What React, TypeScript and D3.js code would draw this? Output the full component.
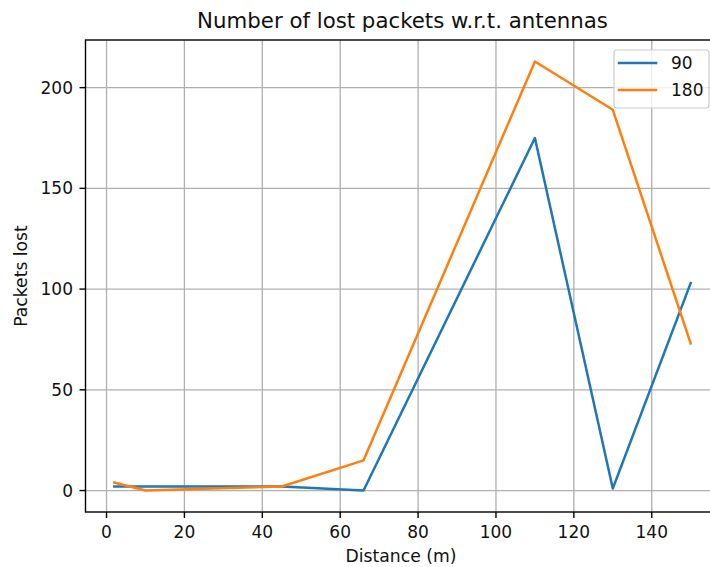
import React from "react";
import * as d3 from "d3";

const distances = [2, 10, 45, 66, 110, 130, 150];
const series90 = [2, 2, 2, 0, 175, 1, 103];
const series180 = [4, 0, 2, 15, 213, 189, 73];
const seriesNames = ["90", "180"];
const seriesColors = ["#1f77b4", "#ff7f0e"];
const xTicks = [0, 20, 40, 60, 80, 100, 120, 140];
const yTicks = [0, 50, 100, 150, 200];
const titleText = "Number of lost packets w.r.t. antennas";
const xLabelText = "Distance (m)";
const yLabelText = "Packets lost";

const W = 710;
const H = 567;
const L = 85.5, R = 719.5, T = 40, B = 512;
const FONT = "DejaVu Sans, sans-serif";

export default function App() {
  const x = d3.scaleLinear().domain([-5.4, 157.4]).range([L, R]);
  const y = d3.scaleLinear().domain([-10.65, 223.65]).range([B, T]);
  const allSeries = [series90, series180];
  const line = d3
    .line<[number, number]>()
    .x((d) => x(d[0]))
    .y((d) => y(d[1]));

  return (
    <svg
      width={W}
      height={H}
      style={{ position: "absolute", left: 0, top: 0, background: "#fff" }}
      fontFamily={FONT}
    >
      <rect x={0} y={0} width={W} height={H} fill="#fff" />
      {/* grid */}
      {xTicks.map((t) => (
        <line key={"gx" + t} x1={x(t)} x2={x(t)} y1={T} y2={B} stroke="#b0b0b0" strokeWidth={1.3} />
      ))}
      {yTicks.map((t) => (
        <line key={"gy" + t} x1={L} x2={R} y1={y(t)} y2={y(t)} stroke="#b0b0b0" strokeWidth={1.3} />
      ))}
      {/* lines */}
      {allSeries.map((s, i) => (
        <path
          key={"s" + i}
          d={line(distances.map((d, j) => [d, s[j]] as [number, number])) || ""}
          fill="none"
          stroke={seriesColors[i]}
          strokeWidth={2.5}
          strokeLinejoin="round"
          strokeLinecap="square"
        />
      ))}
      {/* spines */}
      <rect x={L} y={T} width={R - L} height={B - T} fill="none" stroke="#000" strokeWidth={1.4} />
      {/* x ticks */}
      {xTicks.map((t) => (
        <g key={"xt" + t}>
          <line x1={x(t)} x2={x(t)} y1={B} y2={B + 6} stroke="#000" strokeWidth={1.4} />
          <text x={x(t)} y={537.5} textAnchor="middle" fontSize={17} fill="#111">
            {t}
          </text>
        </g>
      ))}
      {/* y ticks */}
      {yTicks.map((t) => (
        <g key={"yt" + t}>
          <line x1={L - 6} x2={L} y1={y(t)} y2={y(t)} stroke="#000" strokeWidth={1.4} />
          <text x={L - 12.5} y={y(t)} textAnchor="end" dominantBaseline="central" fontSize={17} fill="#111">
            {t}
          </text>
        </g>
      ))}
      {/* labels */}
      <text x={(L + R) / 2} y={28} textAnchor="middle" fontSize={21.3} fill="#111">
        {titleText}
      </text>
      <text x={401} y={562} textAnchor="middle" fontSize={17.2} fill="#111">
        {xLabelText}
      </text>
      <text
        transform={`translate(26.5, ${(T + B) / 2}) rotate(-90)`}
        textAnchor="middle"
        fontSize={17.2}
        fill="#111"
      >
        {yLabelText}
      </text>
      {/* legend */}
      <g>
        <rect x={614} y={50} width={95} height={58} rx={3} fill="#fff" fillOpacity={0.8} stroke="#cccccc" strokeWidth={1.2} />
        {seriesNames.map((n, i) => (
          <g key={"lg" + i}>
            <line x1={619} x2={656} y1={63 + i * 27} y2={63 + i * 27} stroke={seriesColors[i]} strokeWidth={2.5} strokeLinecap="square" />
            <text x={671} y={63 + i * 27} dominantBaseline="central" fontSize={17} fill="#111">
              {n}
            </text>
          </g>
        ))}
      </g>
    </svg>
  );
}
